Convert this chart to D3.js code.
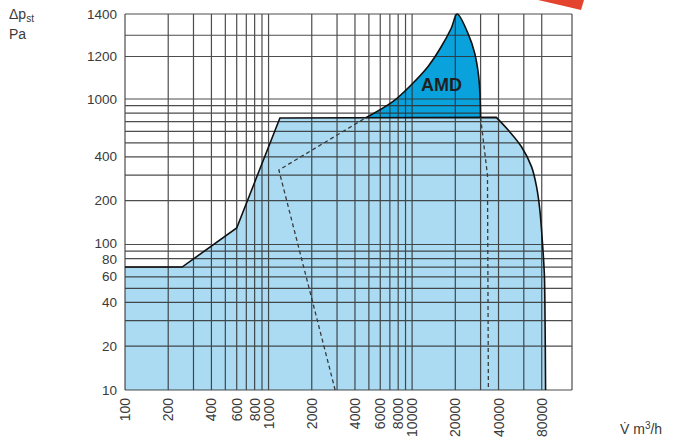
<!DOCTYPE html>
<html>
<head>
<meta charset="utf-8">
<script src="https://cdn.jsdelivr.net/npm/d3@7"></script>
<style>
  body { margin: 0; background: #fff; }
  svg { display: block; }
  text { font-family: "Liberation Sans", Arial, sans-serif; fill: #3a3a3a; }
</style>
</head>
<body>
<svg id="chart" width="674" height="444"></svg>
<script>
// flow in m3/h, pressure in Pa
var xGrid = [100, 200, 300, 400, 500, 600, 700, 800, 900, 1000,
  2000, 3000, 4000, 5000, 6000, 7000, 8000, 9000, 10000,
  20000, 30000, 40000, 60000, 80000, 130000];
var yGrid = [10, 20, 30, 40, 50, 60, 70, 80, 90, 100,
  200, 300, 400, 500, 600, 700, 800, 900, 1000, 1200, 1300, 1400];
var xLabels = [100, 200, 400, 600, 800, 1000, 2000, 4000, 6000, 8000, 10000, 20000, 40000, 80000];
var yLabels = [10, 20, 40, 60, 80, 100, 200, 400, 1000, 1200, 1400];

// fan range, straight part then the rounded right side
var rangeLeft = [[100, 10], [100, 70], [250, 70], [600, 130], [1200, 740], [38600, 748]];
var rangeRight = [[38600, 748], [46700, 612], [57800, 470], [67900, 343], [73600, 250],
  [77600, 173], [80700, 107], [83400, 63], [84100, 42], [85100, 10]];

// AMD area, top edge from left corner over the peak to right corner
var amdTop = [[4770, 744], [7330, 958], [9840, 1066], [12880, 1152], [15950, 1246],
  [18740, 1333], [20600, 1400], [24500, 1309], [27300, 1215], [29100, 1105],
  [29800, 990], [30000, 746]];

var dashLeft = [[2910, 10], [1180, 325], [4770, 744]];
var dashRight = [[30000, 746], [33500, 300], [34000, 10]];

var svg = d3.select("#chart");

var x = d3.scaleLog().domain([100, 130000]).range([125, 572]);
var yLow = d3.scaleLog().domain([10, 1000]).range([390, 99]);
var yHigh = d3.scaleLinear().domain([1000, 1400]).range([99, 14]);
function y(v) {
  return v > 1000 ? yHigh(v) : yLow(v);
}

var straight = d3.line().x(function(d) { return x(d[0]); }).y(function(d) { return y(d[1]); });
var curved = d3.line().x(function(d) { return x(d[0]); }).y(function(d) { return y(d[1]); })
  .curve(d3.curveCatmullRom.alpha(0.5));

// light blue fan range
var rangePath = straight(rangeLeft) + curved(rangeRight).replace(/^M/, "L") + "Z";
svg.append("path").attr("d", rangePath).attr("fill", "#abdbf3");

// AMD
svg.append("path").attr("d", curved(amdTop) + "Z").attr("fill", "#0aa2dc");

// grid
var grid = svg.append("g").attr("stroke", "#2e2e2e").attr("stroke-width", 1.2).attr("opacity", 0.85);
grid.selectAll(".gx").data(xGrid).enter().append("line")
  .attr("x1", function(d) { return x(d); }).attr("x2", function(d) { return x(d); })
  .attr("y1", y(1400)).attr("y2", y(10));
grid.selectAll(".gy").data(yGrid).enter().append("line")
  .attr("x1", x(100)).attr("x2", x(130000))
  .attr("y1", function(d) { return y(d); }).attr("y2", function(d) { return y(d); });

// outlines
var outline = svg.append("g").attr("fill", "none").attr("stroke", "#111").attr("stroke-width", 1.6);
outline.append("path").attr("d", straight(rangeLeft.slice(1)) + curved(rangeRight).replace(/^M/, "L"));
outline.append("path").attr("d", curved(amdTop));

var dashes = svg.append("g").attr("fill", "none").attr("stroke", "#3a3a3a")
  .attr("stroke-width", 1.3).attr("stroke-dasharray", "4,3");
dashes.append("path").attr("d", straight(dashLeft));
dashes.append("path").attr("d", straight(dashRight));

// labels (100 and 80 sit close, nudge them apart a little)
svg.append("g").selectAll("text").data(yLabels).enter().append("text")
  .attr("x", 117)
  .attr("y", function(d) { return y(d) + (d === 100 ? 3.5 : d === 80 ? 5.5 : 4.5); })
  .attr("text-anchor", "end").style("font-size", "13.5px")
  .text(function(d) { return d; });

svg.append("g").selectAll("text").data(xLabels).enter().append("text")
  .attr("transform", function(d) { return "translate(" + (x(d) + 5) + ",398) rotate(-90)"; })
  .attr("text-anchor", "end").style("font-size", "14px")
  .text(function(d) { return d; });

var yTitle = svg.append("text").attr("x", 9).attr("y", 19).style("font-size", "14px");
yTitle.append("tspan").text("Δp");
yTitle.append("tspan").attr("dy", 3).style("font-size", "10px").text("st");
svg.append("text").attr("x", 9).attr("y", 39).style("font-size", "14px").text("Pa");

var xTitle = svg.append("text").attr("x", 620).attr("y", 434).style("font-size", "14px");
xTitle.append("tspan").text("V\u0307 m");
xTitle.append("tspan").attr("dy", -5).style("font-size", "10px").text("3");
xTitle.append("tspan").attr("dy", 5).text("/h");

svg.append("text").attr("x", x(16000)).attr("y", y(1040))
  .attr("text-anchor", "middle").style("font-size", "18px").style("font-weight", "bold")
  .style("fill", "#1f1f1f").text("AMD");

// red corner piece cut off at the top
svg.append("path").attr("d", "M538,0 L584,0 L581,10 Q560,5 538,0 Z").attr("fill", "#e4432d");
</script>
</body>
</html>
